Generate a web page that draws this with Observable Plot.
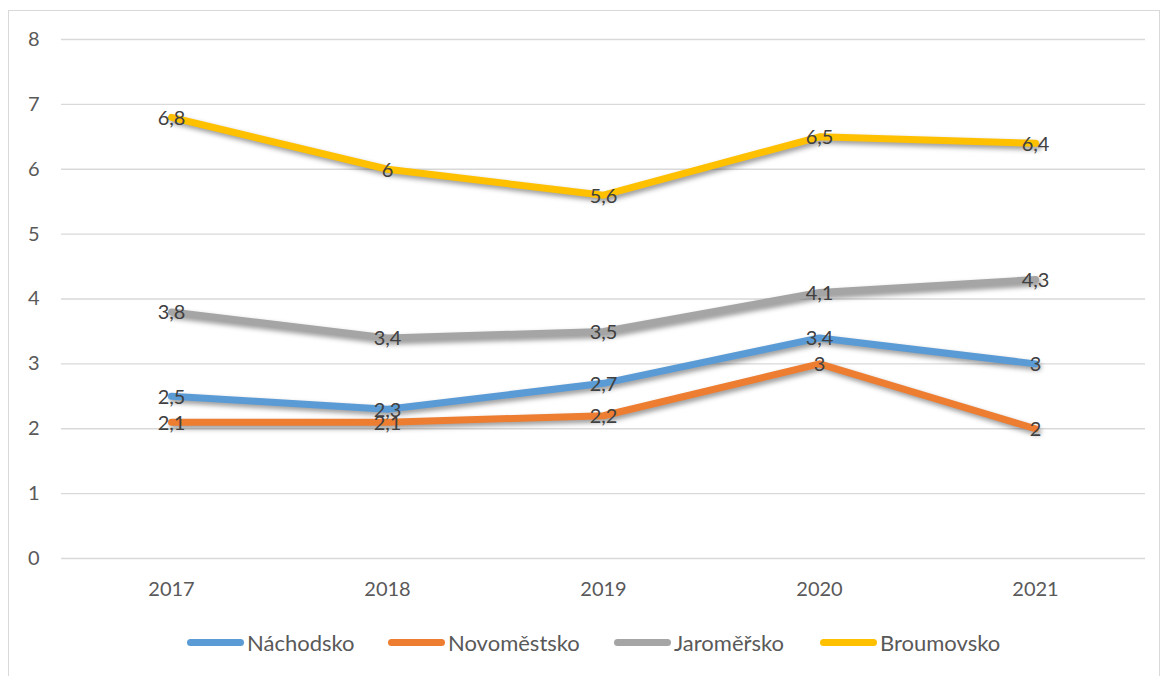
<!DOCTYPE html>
<html>
<head>
<meta charset="utf-8">
<script src="https://cdn.jsdelivr.net/npm/d3@7"></script>
<script src="https://cdn.jsdelivr.net/npm/@observablehq/plot@0.6"></script>
<style>
  html, body { margin: 0; padding: 0; background: #fff; }
  #wrap { position: relative; width: 1162px; height: 676px; font-family: Lato, "Liberation Sans", sans-serif; }
  #frame { position: absolute; left: 8px; top: 10px; width: 1152px; height: 670px; border: 1.5px solid #d9d9d9; box-sizing: border-box; }
  #chart { position: absolute; left: 0; top: 0; }
  #legend { position: absolute; left: 0; top: 628px; width: 1162px; height: 28px; font-size: 22px; color: #595959; }
  .item { position: absolute; top: 0; height: 28px; display: flex; align-items: center; }
  .sw { width: 57px; height: 7px; border-radius: 4px; margin-right: 3px; }
  g[aria-label="line"] path { filter: drop-shadow(2px 3px 2.5px rgba(0,0,0,0.4)); }
</style>
</head>
<body>
<div id="wrap">
  <div id="frame"></div>
  <div id="chart"></div>
  <div id="legend"></div>
</div>
<script>
const years = ["2017", "2018", "2019", "2020", "2021"];
const seriesNames = ["Náchodsko", "Novoměstsko", "Jaroměřsko", "Broumovsko"];
const seriesColors = ["#5B9BD5", "#ED7D31", "#A5A5A5", "#FFC000"];
const nachodsko = [2.5, 2.3, 2.7, 3.4, 3];
const novomestsko = [2.1, 2.1, 2.2, 3, 2];
const jaromersko = [3.8, 3.4, 3.5, 4.1, 4.3];
const broumovsko = [6.8, 6, 5.6, 6.5, 6.4];
const yTicks = [0, 1, 2, 3, 4, 5, 6, 7, 8];
const legendLeft = [187, 388, 614, 820];

const values = [nachodsko, novomestsko, jaromersko, broumovsko];
const data = [];
seriesNames.forEach((s, i) => years.forEach((y, j) => data.push({series: s, year: y, value: values[i][j]})));
const fmt = v => String(v).replace(".", ",");

const lineMarks = seriesNames.map((s, i) => Plot.line(data.filter(d => d.series === s), {
  x: "year", y: "value", stroke: seriesColors[i], strokeWidth: 7,
  strokeLinecap: "round", strokeLinejoin: "round"
}));

const chart = Plot.plot({
  width: 1162,
  height: 620,
  marginLeft: 61,
  marginRight: 17,
  marginTop: 39,
  marginBottom: 62,
  style: { fontFamily: "Lato, 'Liberation Sans', sans-serif", fontSize: "20px", color: "#595959", background: "transparent" },
  x: { type: "point", domain: years, padding: 0.5, label: null },
  y: { domain: [0, 8], label: null },
  marks: [
    Plot.gridY(yTicks, { stroke: "#d9d9d9", strokeOpacity: 1, strokeWidth: 1.3 }),
    Plot.axisY(yTicks, { tickSize: 0, tickPadding: 22, tickFormat: d => String(d), label: null, fill: "#595959", fontSize: 20 }),
    Plot.axisX(years, { tickSize: 0, tickPadding: 23, label: null, fill: "#595959", fontSize: 20 }),
    ...lineMarks,
    Plot.text(data, { x: "year", y: "value", text: d => fmt(d.value), fill: "#404040", fontSize: 20, dy: 1 })
  ]
});
document.getElementById("chart").appendChild(chart);

const legend = document.getElementById("legend");
seriesNames.forEach((s, i) => {
  const it = document.createElement("div");
  it.className = "item";
  it.style.left = legendLeft[i] + "px";
  const sw = document.createElement("div");
  sw.className = "sw";
  sw.style.background = seriesColors[i];
  const t = document.createElement("span");
  t.textContent = s;
  it.appendChild(sw);
  it.appendChild(t);
  legend.appendChild(it);
});
</script>
</body>
</html>
